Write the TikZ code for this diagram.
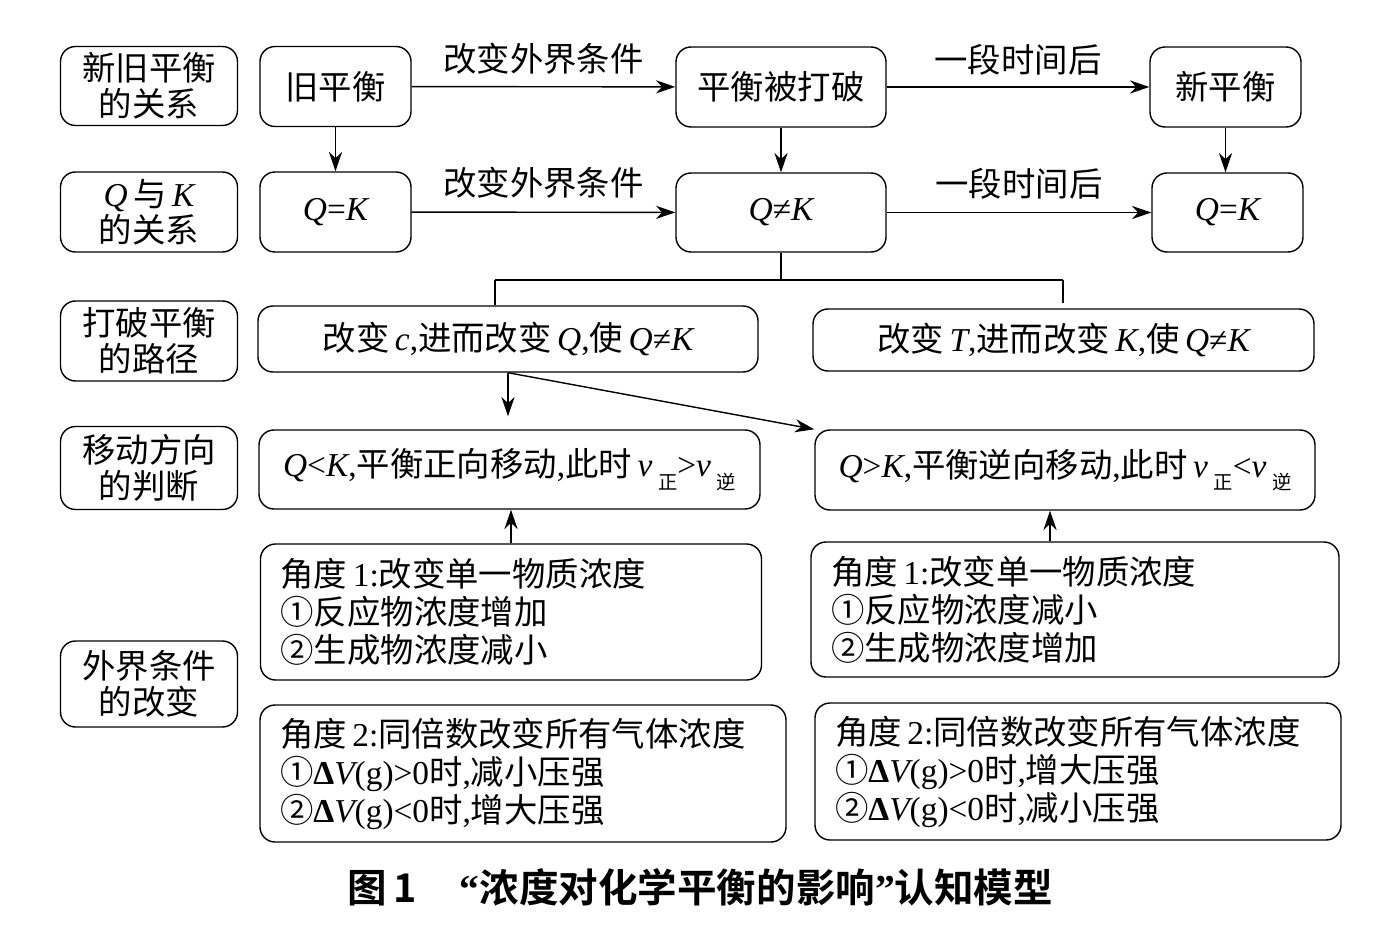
\documentclass[tikz,border=0pt]{standalone}
\usepackage{fontspec}
\setmainfont{Noto Sans CJK SC}[BoldFont={Noto Sans CJK SC Bold}]
\newfontfamily\tms{Liberation Serif}
\usetikzlibrary{arrows.meta}
\newcommand\vx[1]{{\tms\itshape #1}}
\newcommand\tx[1]{{\tms #1}}
\newcommand\sub[1]{\,\raisebox{-0.7ex}{\fontsize{11}{11}\selectfont #1}}
\tikzstyle{labelbox}=[draw,rounded corners=0.3cm,line width=0.8pt,minimum width=3.54cm,align=center,inner sep=0pt]
\tikzstyle{box}=[draw,rounded corners=0.3cm,line width=0.8pt,align=center,inner sep=0pt]
\tikzstyle{textbox}=[draw,rounded corners=0.3cm,line width=0.8pt,align=left,inner xsep=0.4cm,inner ysep=0pt,font=\fontsize{19}{21.6}\selectfont]
\tikzstyle{arrow}=[draw,line width=0.8pt,-{Stealth[length=11pt,width=7.5pt,inset=3.5pt]}]
\tikzstyle{line}=[draw,line width=0.8pt]

\begin{document}
\begin{tikzpicture}[x=0.02cm,y=-0.02cm,font=\fontsize{19}{20.5}\selectfont]
\useasboundingbox (0,0) rectangle (1392,929);

% left column
\foreach \pos/\name/\h/\txt in {{(149,86)/l1/79/{新旧平衡\\的关系}}, {(149,212)/l2/80/{\vx{Q}\,与\,\vx{K}\\的关系}},
    {(149,341)/l3/80/{打破平衡\\的路径}}, {(149,468)/l4/83/{移动方向\\的判断}}, {(149,684)/l5/86/{外界条件\\的改变}}}
    \node[labelbox,minimum height=\h*0.02cm] (\name) at \pos {\txt};

% one-line boxes
\foreach \pos/\name/\w/\h/\txt in {{(335.5,86.5)/old/151/80/{旧平衡}}, {(781,87)/broken/210/80/{平衡被打破}}, {(1225.5,87)/new/151/80/{新平衡}},
    {(335.5,212)/qk1/151/80/{\vx{Q}\tx{=}\vx{K}}}, {(781,212.5)/qnk/210/79/{\vx{Q}\tx{≠}\vx{K}}}, {(1227.5,212.5)/qk2/151/79/{\vx{Q}\tx{=}\vx{K}}},
    {(508,339)/pathc/500/66/{改变\,\vx{c}\tx{,}进而改变\,\vx{Q}\tx{,}使\,\vx{Q}\tx{≠}\vx{K}}},
    {(1063.5,340)/pathT/501/62/{改变\,\vx{T}\tx{,}进而改变\,\vx{K}\tx{,}使\,\vx{Q}\tx{≠}\vx{K}}},
    {(509.5,469.5)/fwd/501/79/{\vx{Q}\tx{<}\vx{K}\tx{,}平衡正向移动\tx{,}此时\,\vx{v}\sub{正}\tx{>}\vx{v}\sub{逆}}},
    {(1065,470)/bwd/500/80/{\vx{Q}\tx{>}\vx{K}\tx{,}平衡逆向移动\tx{,}此时\,\vx{v}\sub{正}\tx{<}\vx{v}\sub{逆}}}}
    \node[box,minimum width=\w*0.02cm,minimum height=\h*0.02cm] (\name) at \pos {\txt};

% three-line boxes
\foreach \pos/\name/\w/\h/\txt in {{(511,612)/a1l/501/136/{角度\,\tx{1:}改变单一物质浓度\\①反应物浓度增加\\②生成物浓度减小}},
    {(1075,609.5)/a1r/528/135/{角度\,\tx{1:}改变单一物质浓度\\①反应物浓度减小\\②生成物浓度增加}},
    {(523,773.5)/a2l/526/137/{角度\,\tx{2:}同倍数改变所有气体浓度\\①{\tms\bfseries Δ}\vx{V}\tx{(g)>0}时\tx{,}减小压强\\②{\tms\bfseries Δ}\vx{V}\tx{(g)<0}时\tx{,}增大压强}},
    {(1078,771.5)/a2r/526/137/{角度\,\tx{2:}同倍数改变所有气体浓度\\①{\tms\bfseries Δ}\vx{V}\tx{(g)>0}时\tx{,}增大压强\\②{\tms\bfseries Δ}\vx{V}\tx{(g)<0}时\tx{,}减小压强}}}
{
    \pgfmathsetmacro\tw{(\w-40)*0.02}
    \node[textbox,text width=\tw cm,minimum height=\h*0.02cm] (\name) at \pos {\txt};
}

% row arrows
\draw[arrow] (old) -- node[yshift=0.55cm] {改变外界条件} (broken);
\draw[arrow] (broken) -- node[yshift=0.55cm] {一段时间后} (new);
\draw[arrow] (qk1) -- node[yshift=0.58cm] {改变外界条件} (qnk);
\draw[arrow] (qnk) -- node[yshift=0.58cm] {一段时间后} (qk2);
\draw[arrow] (old) -- (qk1);
\draw[arrow] (broken) -- (qnk);
\draw[arrow] (new.south) -- (new.south |- qk2.north);

% branching
\coordinate (fork) at ([yshift=-0.56cm]qnk.south);
\coordinate (bl) at (495,280);
\coordinate (br) at (1063,280);
\coordinate (brEnd) at (1063,303);
\draw[line] (qnk.south) -- (fork) (bl) -- (br) (bl) -- (bl |- pathc.north) (br) -- (brEnd);

\draw[arrow,shorten >=0.26cm] (pathc.south) -- (pathc.south |- fwd.north);
\draw[arrow] (pathc.south) -- (bwd.north west);
\draw[arrow] (a1l.north) -- (a1l.north |- fwd.south);
\draw[arrow] ([xshift=-0.5cm]a1r.north) -- ([xshift=-0.5cm]a1r.north |- bwd.south);

\node[font=\bfseries\fontsize{22.5}{26}\selectfont] (caption) at (700,887) {图\,1\hspace{1.1em}{\tms “}浓度对化学平衡的影响{\tms ”}认知模型};
\end{tikzpicture}
\end{document}
